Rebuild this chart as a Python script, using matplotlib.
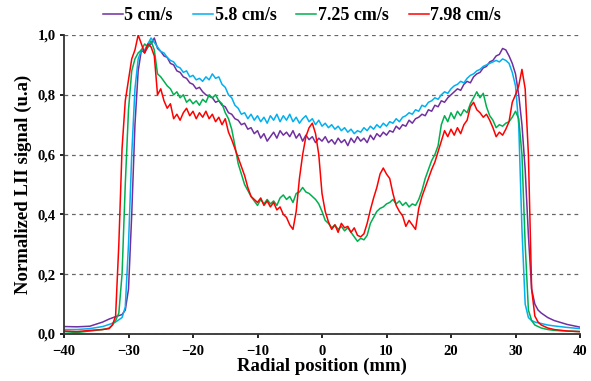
import matplotlib
matplotlib.use('Agg')
import matplotlib.pyplot as plt
from matplotlib.ticker import FuncFormatter

# flow velocity labels
labels = ['5 cm/s', '5.8 cm/s', '7.25 cm/s', '7.98 cm/s']
colors = ['#7030A0', '#00B0F0', '#00B050', '#FF0000']

# common radial grid for the central part (-25.5 .. 28.5 mm, 0.5 mm step)
x_mid = [-25.5 + 0.5 * i for i in range(109)]

# 5 cm/s
x_left_5 = [-40, -38, -36, -34, -33, -32, -31, -30.5, -30, -29.5, -29, -28.5, -28, -27.5, -27, -26.5, -26]
y_left_5 = [0.025, 0.024, 0.026, 0.04, 0.05, 0.058, 0.065, 0.08, 0.15, 0.4, 0.7, 0.88, 0.95, 0.94, 0.96, 0.97, 0.99]
y_mid_5 = [0.955, 0.945, 0.93, 0.925, 0.905, 0.90, 0.88, 0.875, 0.86, 0.855, 0.84, 0.835, 0.82, 0.825, 0.81,
           0.80, 0.795, 0.79, 0.775, 0.78, 0.765, 0.76, 0.74, 0.735, 0.72, 0.715, 0.70, 0.705, 0.685, 0.69,
           0.67, 0.68, 0.655, 0.67, 0.645, 0.66, 0.675, 0.655, 0.68, 0.665, 0.675, 0.66, 0.68, 0.655, 0.67,
           0.645, 0.665, 0.65, 0.66, 0.64, 0.655, 0.645, 0.66, 0.64, 0.65, 0.635, 0.655, 0.64, 0.65, 0.63,
           0.655, 0.64, 0.66, 0.645, 0.655, 0.64, 0.665, 0.65, 0.67, 0.66, 0.675, 0.665, 0.68, 0.675, 0.695,
           0.685, 0.70, 0.695, 0.715, 0.705, 0.72, 0.725, 0.735, 0.73, 0.75, 0.745, 0.765, 0.76, 0.78, 0.775,
           0.79, 0.80, 0.81, 0.82, 0.815, 0.835, 0.845, 0.84, 0.86, 0.87, 0.875, 0.89, 0.895, 0.91, 0.915,
           0.93, 0.935, 0.955, 0.95]
x_right_5 = [29, 29.5, 30, 30.5, 31, 31.5, 32, 32.5, 33, 33.5, 34, 35, 36, 38, 40]
y_right_5 = [0.93, 0.905, 0.87, 0.80, 0.70, 0.55, 0.33, 0.15, 0.10, 0.08, 0.07, 0.055, 0.045, 0.032, 0.023]

# 5.8 cm/s
x_left_58 = [-40, -38, -36, -34, -33, -32, -31, -30.5, -30, -29.5, -29, -28.5, -28, -27.5, -27, -26.5, -26]
y_left_58 = [0.015, 0.015, 0.018, 0.025, 0.032, 0.04, 0.055, 0.09, 0.3, 0.6, 0.82, 0.92, 0.95, 0.95, 0.97, 0.99, 0.975]
y_mid_58 = [0.96, 0.945, 0.94, 0.925, 0.915, 0.91, 0.895, 0.89, 0.875, 0.88, 0.86, 0.865, 0.85, 0.855, 0.845,
            0.86, 0.85, 0.87, 0.855, 0.86, 0.835, 0.825, 0.80, 0.79, 0.765, 0.755, 0.735, 0.74, 0.72, 0.735,
            0.715, 0.73, 0.71, 0.725, 0.705, 0.73, 0.715, 0.735, 0.71, 0.73, 0.715, 0.735, 0.71, 0.725, 0.705,
            0.72, 0.73, 0.71, 0.72, 0.70, 0.715, 0.695, 0.705, 0.69, 0.70, 0.685, 0.695, 0.68, 0.69, 0.675,
            0.685, 0.67, 0.68, 0.675, 0.69, 0.68, 0.695, 0.685, 0.70, 0.69, 0.705, 0.695, 0.71, 0.705, 0.72,
            0.71, 0.725, 0.73, 0.74, 0.735, 0.75, 0.745, 0.765, 0.76, 0.775, 0.78, 0.79, 0.785, 0.80, 0.81,
            0.805, 0.82, 0.83, 0.835, 0.845, 0.84, 0.855, 0.865, 0.87, 0.88, 0.885, 0.895, 0.90, 0.905, 0.91,
            0.915, 0.91, 0.92, 0.915]
x_right_58 = [29, 29.5, 30, 30.5, 31, 31.5, 32, 32.5, 33, 34, 35, 36, 38, 40]
y_right_58 = [0.905, 0.875, 0.83, 0.70, 0.35, 0.10, 0.055, 0.045, 0.04, 0.035, 0.03, 0.027, 0.022, 0.018]

# 7.25 cm/s
x_left_725 = [-40, -38, -36, -34, -33, -32.5, -32, -31.5, -31, -30.5, -30, -29.5, -29, -28.5, -28, -27.5, -27, -26.5, -26]
y_left_725 = [0.008, 0.005, 0.01, 0.015, 0.02, 0.03, 0.045, 0.07, 0.2, 0.5, 0.75, 0.88, 0.92, 0.94, 0.95, 0.97, 0.96, 0.98, 0.95]
y_mid_725 = [0.87, 0.86, 0.845, 0.83, 0.82, 0.80, 0.81, 0.79, 0.80, 0.775, 0.785, 0.77, 0.78, 0.765, 0.785,
             0.775, 0.80, 0.79, 0.80, 0.78, 0.77, 0.74, 0.72, 0.685, 0.63, 0.57, 0.535, 0.50, 0.48, 0.46,
             0.445, 0.43, 0.45, 0.435, 0.45, 0.435, 0.445, 0.43, 0.455, 0.465, 0.45, 0.46, 0.44, 0.47, 0.475,
             0.49, 0.475, 0.47, 0.46, 0.45, 0.435, 0.41, 0.38, 0.37, 0.355, 0.365, 0.35, 0.36, 0.345, 0.355,
             0.34, 0.325, 0.31, 0.32, 0.315, 0.33, 0.37, 0.39, 0.41, 0.42, 0.425, 0.435, 0.44, 0.45, 0.435,
             0.445, 0.43, 0.44, 0.425, 0.435, 0.43, 0.45, 0.48, 0.52, 0.55, 0.58, 0.60, 0.63, 0.70, 0.73,
             0.71, 0.74, 0.72, 0.745, 0.73, 0.75, 0.74, 0.77, 0.79, 0.81, 0.79, 0.805, 0.76, 0.73, 0.715,
             0.69, 0.70, 0.695, 0.705]
x_right_725 = [29, 29.5, 30, 30.5, 31, 31.5, 32, 32.5, 33, 34, 35, 36, 38, 40]
y_right_725 = [0.71, 0.725, 0.745, 0.72, 0.60, 0.30, 0.08, 0.045, 0.03, 0.02, 0.015, 0.012, 0.01, 0.008]

# 7.98 cm/s
x_left_798 = [-40, -38, -36, -34, -33, -32.5, -32, -31.5, -31, -30.5, -30, -29.5, -29, -28.5, -28, -27.5, -27, -26.5, -26]
y_left_798 = [0.01, 0.008, 0.012, 0.015, 0.018, 0.03, 0.06, 0.3, 0.62, 0.78, 0.85, 0.92, 0.95, 1.0, 0.97, 0.94, 0.97, 0.96, 0.93]
y_mid_798 = [0.80, 0.82, 0.78, 0.755, 0.77, 0.72, 0.735, 0.715, 0.74, 0.755, 0.73, 0.745, 0.72, 0.74, 0.725,
             0.745, 0.72, 0.735, 0.71, 0.725, 0.70, 0.72, 0.675, 0.65, 0.62, 0.59, 0.56, 0.53, 0.49, 0.46,
             0.45, 0.44, 0.455, 0.43, 0.445, 0.425, 0.44, 0.415, 0.425, 0.40, 0.39, 0.365, 0.35, 0.41, 0.52,
             0.60, 0.66, 0.69, 0.705, 0.67, 0.60, 0.47, 0.41, 0.375, 0.35, 0.365, 0.34, 0.37, 0.355, 0.36,
             0.34, 0.355, 0.33, 0.325, 0.335, 0.37, 0.415, 0.455, 0.49, 0.535, 0.555, 0.535, 0.52, 0.47, 0.43,
             0.41, 0.395, 0.36, 0.38, 0.365, 0.35, 0.42, 0.46, 0.49, 0.52, 0.55, 0.575, 0.61, 0.645, 0.68,
             0.66, 0.685, 0.665, 0.69, 0.67, 0.70, 0.715, 0.76, 0.775, 0.75, 0.74, 0.725, 0.735, 0.715, 0.69,
             0.66, 0.675, 0.665, 0.685]
x_right_798 = [29, 29.5, 30, 30.5, 31, 31.5, 32, 32.5, 33, 33.5, 34, 35, 36, 38, 40]
y_right_798 = [0.71, 0.775, 0.80, 0.83, 0.885, 0.82, 0.60, 0.15, 0.06, 0.04, 0.03, 0.02, 0.015, 0.01, 0.008]

series = [
    (x_left_5, y_left_5, y_mid_5, x_right_5, y_right_5),
    (x_left_58, y_left_58, y_mid_58, x_right_58, y_right_58),
    (x_left_725, y_left_725, y_mid_725, x_right_725, y_right_725),
    (x_left_798, y_left_798, y_mid_798, x_right_798, y_right_798),
]

plt.rcParams['font.family'] = ['Liberation Serif', 'DejaVu Serif']
plt.rcParams['font.weight'] = 'bold'

fig = plt.figure(figsize=(5.91, 3.81), dpi=100)
ax = fig.add_axes([64 / 591, 1 - 334 / 381, 516 / 591, 299 / 381])

for (xl, yl, ym, xr, yr), lab, col in zip(series, labels, colors):
    ax.plot(xl + x_mid + xr, yl + ym + yr, color=col, lw=1.1, label=lab)

ax.set_xlim(-40, 40)
ax.set_ylim(0, 1.0)
ax.set_xticks(range(-40, 41, 10))
ax.set_yticks([0, 0.2, 0.4, 0.6, 0.8, 1.0])
ax.yaxis.set_major_formatter(FuncFormatter(lambda v, p: ('%.1f' % v).replace('.', ',')))
ax.grid(axis='y', ls=(0, (3, 3)), color='#666666', lw=0.9)
ax.set_axisbelow(True)
for s in ['top', 'right']:
    ax.spines[s].set_visible(False)
for s in ['left', 'bottom']:
    ax.spines[s].set_linewidth(1.3)
    ax.spines[s].set_color('#333333')
ax.tick_params(direction='out', length=3, width=1.2, labelsize=10.5, pad=3)
ax.tick_params(axis='x', pad=5)

ax.set_xlabel('Radial position (mm)', fontsize=13.5, fontweight='bold', labelpad=0)
ax.set_ylabel('Normalized LII signal (u.a)', fontsize=13.5, fontweight='bold', labelpad=4)

leg = fig.legend(loc='center', bbox_to_anchor=(302 / 591, 1 - 16 / 381), ncol=4, frameon=False,
                 fontsize=13, handlelength=1.1, handletextpad=0.1, columnspacing=1.1)

fig.savefig('out.png', dpi=100)
